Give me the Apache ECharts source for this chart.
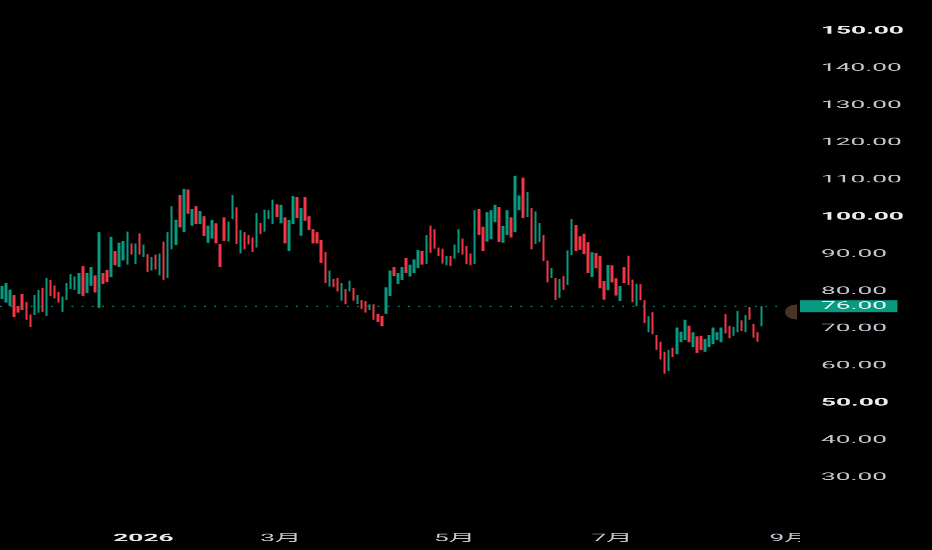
<!DOCTYPE html>
<html>
<head>
<meta charset="utf-8">
<title>日线图</title>
<script src="https://cdn.jsdelivr.net/npm/echarts@6/dist/echarts.min.js"></script>
<style>
  html, body { margin: 0; padding: 0; background: #000; overflow: hidden; }
  /* 원본 캡처는 글자가 가로로 늘어나 있다: 세로로 2.5배 크게 그린 뒤 0.4배로 눌러 같은 모양을 만든다 */
  #chart { width: 932px; height: 1375px; transform: scaleY(0.4); transform-origin: 0 0; }
</style>
</head>
<body>
<div id="chart"></div>
<script>
// 일봉 시가/종가 (왼쪽부터, 2025년 11월 중순 ~ 2026년 8월 하순)
const opens = [
  77.9, 77.0, 76.1, 79.0, 76.1, 79.3, 77.2, 73.8, 73.6, 74.3,
  80.9, 73.4, 83.1, 81.6, 79.9, 74.5, 77.7, 80.6, 80.4, 79.3,
  86.8, 79.5, 81.5, 84.3, 75.6, 85.0, 85.8, 83.8, 90.8, 86.6,
  88.3, 87.2, 92.9, 87.4, 95.6, 89.2, 90.0, 85.6, 89.9, 84.3,
  93.4, 83.6, 91.3, 92.4, 105.9, 95.9, 107.4, 97.7, 102.9, 98.1,
  100.2, 93.1, 94.2, 98.3, 92.7, 99.9, 93.4, 99.5, 102.6, 90.2,
  95.9, 95.1, 94.5, 91.8, 98.4, 96.1, 99.5, 98.1, 103.4, 98.3,
  99.9, 90.9, 98.1, 105.4, 95.0, 105.4, 100.2, 96.7, 95.9, 93.8,
  90.6, 81.3, 83.4, 83.6, 77.5, 80.6, 80.0, 80.9, 76.6, 77.7,
  77.4, 75.0, 76.5, 74.0, 73.4, 74.0, 78.8, 86.5, 82.0, 83.1,
  89.0, 84.0, 84.9, 86.3, 90.9, 87.4, 97.7, 96.7, 91.8, 91.5,
  87.0, 89.5, 88.8, 90.4, 94.2, 92.2, 90.2, 87.4, 102.2, 97.4,
  93.4, 94.0, 98.6, 102.7, 93.1, 95.1, 99.9, 95.9, 101.8, 110.6,
  100.0, 102.4, 92.7, 93.3, 95.1, 88.3, 83.6, 83.6, 78.3, 84.1,
  81.7, 89.8, 97.9, 94.8, 95.5, 93.2, 83.9, 90.3, 89.6, 82.8,
  80.3, 87.0, 83.5, 77.4, 86.6, 89.6, 83.2, 76.0, 81.9, 77.6,
  69.0, 74.4, 68.3, 66.5, 63.8, 58.6, 64.9, 63.1, 66.3, 66.9,
  70.8, 65.1, 67.9, 68.1, 63.8, 65.1, 65.8, 66.9, 66.3, 73.9,
  70.8, 68.1, 69.0, 72.2, 69.0, 75.8, 71.3, 69.0, 70.6
];
const closes = [
  81.5, 82.3, 80.5, 73.1, 74.3, 75.0, 72.4, 70.4, 79.0, 80.4,
  74.5, 83.6, 78.8, 78.1, 77.0, 78.6, 82.3, 84.7, 84.0, 84.9,
  78.8, 85.0, 86.6, 79.7, 95.9, 82.0, 82.5, 94.7, 87.0, 93.1,
  93.6, 96.1, 89.9, 92.9, 89.9, 92.6, 85.2, 89.3, 85.9, 90.2,
  83.1, 95.9, 102.9, 99.3, 97.2, 107.6, 100.9, 102.2, 98.1, 101.6,
  94.9, 97.7, 99.2, 92.9, 86.6, 93.6, 98.8, 105.9, 92.7, 96.5,
  91.3, 92.6, 90.6, 101.1, 95.4, 102.0, 101.8, 104.7, 100.0, 103.3,
  92.9, 99.2, 105.6, 99.7, 102.4, 99.0, 96.5, 92.9, 92.9, 87.7,
  82.2, 85.6, 81.1, 80.0, 82.3, 76.5, 82.9, 77.5, 79.0, 75.2,
  74.3, 76.5, 72.4, 71.8, 70.6, 81.1, 85.6, 84.1, 84.9, 86.6,
  85.0, 87.2, 88.6, 91.1, 87.2, 95.1, 90.4, 91.5, 89.5, 87.5,
  89.5, 86.8, 92.6, 96.7, 89.9, 87.4, 87.0, 101.8, 95.2, 90.9,
  101.3, 101.8, 103.3, 93.3, 97.6, 101.8, 94.5, 111.1, 105.8, 99.7,
  106.8, 91.3, 101.5, 98.4, 88.1, 82.4, 86.3, 77.7, 83.4, 80.4,
  91.0, 99.5, 90.9, 91.2, 90.0, 85.0, 90.5, 86.2, 80.8, 77.8,
  87.1, 82.4, 78.9, 81.4, 82.3, 81.7, 77.1, 82.1, 77.6, 71.5,
  73.3, 68.5, 64.3, 61.7, 57.9, 64.3, 62.4, 70.3, 69.2, 72.4,
  66.3, 69.0, 63.5, 64.2, 67.2, 68.3, 70.3, 69.0, 70.3, 68.7,
  67.4, 70.5, 74.8, 69.4, 73.7, 72.4, 67.6, 66.5, 76.0
];

// 시간축: 거래일 슬롯 수(오른쪽 빈 미래 구간 포함)와 월 라벨 위치
const slotCount = 198;
const tickSlots = [35, 69, 112, 151, 195];
const tickLabels = ["2026", "3月", "5月", "7月", "9月"];
const yearLabels = ["2026"];

// 가격축
const priceMin = 30;
const priceMax = 150;
const priceStep = 10;
const boldPrices = [50, 100, 150];
const lastPrice = 76.0;

const UP = "#089981";
const DOWN = "#f23645";
const FONT = "Roboto, 'Noto Sans CJK SC', sans-serif";
const SY = 2.5; // 세로 확대 배율 (CSS에서 0.4배로 되돌림)
const FS = 10.5 * SY;

const categories = Array.from({ length: slotCount }, (_, i) => String(i));
const candles = opens.map((o, i) => {
  const c = closes[i];
  return [o, c, Math.min(o, c), Math.max(o, c)];
});

const chart = echarts.init(document.getElementById("chart"), null, { devicePixelRatio: 1 });

chart.setOption({
  backgroundColor: "#000",
  animation: false,
  grid: { left: 0, right: 132, top: 31 * SY, bottom: 72.6 * SY },
  xAxis: {
    type: "category",
    data: categories,
    boundaryGap: true,
    axisLine: { show: false },
    axisTick: { show: false },
    splitLine: { show: false },
    axisLabel: {
      interval: (idx) => tickSlots.includes(idx),
      formatter: (val) => {
        const k = tickSlots.indexOf(Number(val));
        if (k < 0) return "";
        const txt = tickLabels[k];
        return yearLabels.includes(txt) ? `{y|${txt}}` : txt;
      },
      margin: 56 * SY,
      color: "#c3c6ce",
      fontSize: FS,
      fontFamily: FONT,
      rich: { y: { fontWeight: "bold", color: "#e6e6e6", fontSize: FS, fontFamily: FONT } }
    }
  },
  yAxis: {
    type: "value",
    position: "right",
    min: priceMin,
    max: priceMax,
    interval: priceStep,
    axisLine: { show: false },
    axisTick: { show: false },
    splitLine: { show: false },
    axisLabel: {
      margin: 21,
      color: "#c3c6ce",
      fontSize: FS,
      fontFamily: FONT,
      formatter: (v) => boldPrices.includes(v) ? `{b|${v.toFixed(2)}}` : v.toFixed(2),
      rich: { b: { fontWeight: "bold", color: "#ececec", fontSize: FS, fontFamily: FONT } }
    }
  },
  series: [{
    type: "candlestick",
    data: candles,
    barWidth: 3,
    itemStyle: {
      color: UP, color0: DOWN,
      borderColor: UP, borderColor0: DOWN,
      borderWidth: 0
    },
    markLine: {
      silent: true,
      symbol: "none",
      animation: false,
      data: [{ yAxis: lastPrice }],
      lineStyle: { color: UP, type: [2, 8.2], width: 1 * SY },
      label: {
        position: "end",
        distance: 0,
        formatter: lastPrice.toFixed(2),
        backgroundColor: UP,
        color: "#e8f5f1",
        fontSize: FS,
        fontFamily: FONT,
        lineHeight: 12 * SY,
        padding: [0, 10.5, 0, 21]
      }
    }
  }],
  graphic: [
    // 가격축 영역에 걸친 시간 라벨(9月)을 잘라내는 가림막
    {
      type: "rect",
      z: 100,
      shape: { x: 800, y: 495 * SY, width: 132, height: 55 * SY },
      style: { fill: "#000" }
    },
    // 가격선 끝의 반원 버튼 (최신 봉으로 이동)
    {
      type: "rect",
      z: 100,
      shape: { x: 784, y: 303 * SY, width: 16, height: 6 * SY },
      style: { fill: "#000" }
    },
    {
      type: "sector",
      z: 101,
      x: 797,
      y: 312 * SY,
      scaleX: 1.6,
      scaleY: SY,
      shape: { cx: 0, cy: 0, r: 7.5, r0: 0, startAngle: Math.PI / 2, endAngle: Math.PI * 1.5 },
      style: { fill: "#4a3324" }
    }
  ]
});
</script>
</body>
</html>
